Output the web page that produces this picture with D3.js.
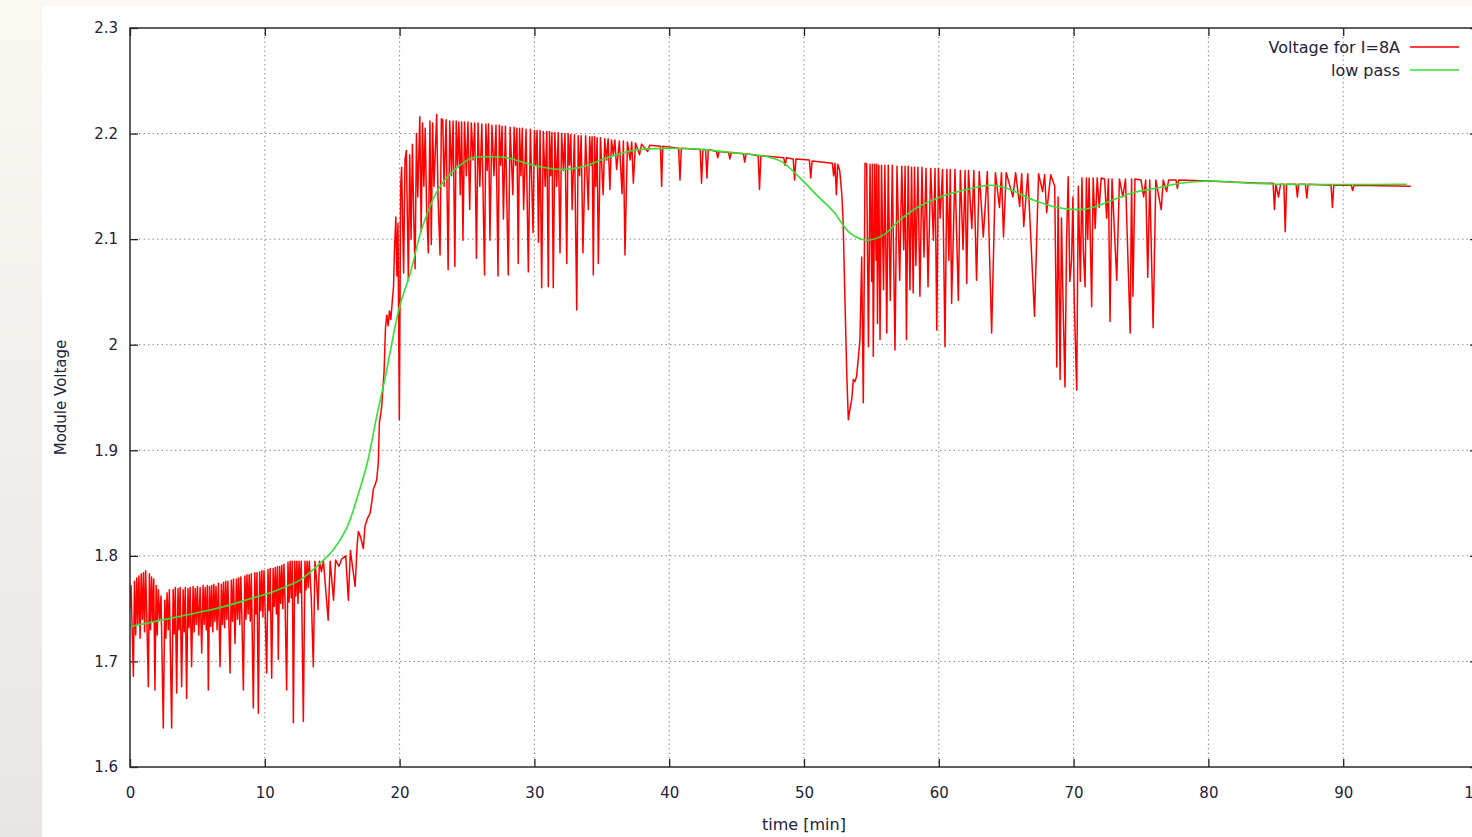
<!DOCTYPE html>
<html>
<head>
<meta charset="utf-8">
<script src="https://cdn.jsdelivr.net/npm/d3@7"></script>
<style>
  html, body { margin: 0; padding: 0; }
  body {
    width: 1472px; height: 837px; overflow: hidden;
    background: linear-gradient(#f9f8f3, #e7e6e2);
  }
  #chart svg { display: block; }
  text { font-family: "DejaVu Sans", Verdana, sans-serif; fill: #22223a; }
</style>
</head>
<body>
<div id="chart"></div>
<script>
// ---- data (time [min], voltage) ----
const voltageStart = [
  [0.00,1.750],[0.08,1.772],[0.16,1.730],[0.25,1.686],[0.33,1.776],[0.42,1.725],[0.50,1.779],[0.58,1.735],[0.66,1.781],[0.75,1.722],
  [0.83,1.783],[0.92,1.740],[1.00,1.784],[1.08,1.728],[1.16,1.786],[1.24,1.745],[1.36,1.676],[1.44,1.783],[1.52,1.730],[1.60,1.780],
  [1.68,1.738],[1.76,1.778],[1.85,1.673],[1.94,1.772],[2.02,1.725],[2.10,1.768],[2.20,1.740],[2.30,1.762],[2.47,1.637],[2.58,1.758],
  [2.66,1.722],[2.75,1.765],[2.84,1.730],[2.92,1.768],[3.09,1.637],[3.20,1.768],[3.28,1.726],[3.36,1.770],[3.46,1.670],[3.56,1.769],
  [3.64,1.730],[3.72,1.770],[3.83,1.676],[3.94,1.768],[4.02,1.728],[4.10,1.770],[4.20,1.665],[4.30,1.769],[4.38,1.732],[4.46,1.770],
  [4.57,1.695],[4.68,1.771],[4.76,1.728],[4.84,1.769],[4.92,1.735],[5.00,1.771],[5.10,1.725],[5.20,1.770],[5.32,1.708],[5.42,1.772],
  [5.50,1.735],[5.58,1.770],[5.66,1.730],[5.74,1.772],[5.81,1.673],[5.90,1.771],[5.98,1.733],[6.06,1.772],[6.14,1.728],[6.22,1.773],
  [6.30,1.738],[6.38,1.771],[6.46,1.730],[6.56,1.774],[6.68,1.695],[6.78,1.773],[6.86,1.735],[6.94,1.775],[7.02,1.732],[7.10,1.776],
  [7.18,1.740],[7.26,1.776],[7.42,1.689],[7.52,1.777],[7.60,1.738],[7.68,1.778],[7.79,1.717],[7.90,1.778],[7.98,1.740],[8.06,1.779],
  [8.14,1.735],[8.22,1.780],[8.30,1.742],[8.41,1.673],[8.52,1.781],[8.60,1.740],[8.68,1.782],[8.76,1.745],[8.84,1.782],[8.92,1.738],
  [9.00,1.783],[9.15,1.656],[9.26,1.784],[9.34,1.745],[9.42,1.784],[9.52,1.651],[9.62,1.785],[9.70,1.748],[9.78,1.786],[9.86,1.742],
  [9.94,1.786],[10.02,1.750],[10.14,1.689],[10.24,1.787],[10.32,1.748],[10.40,1.788],[10.51,1.684],[10.62,1.788],[10.70,1.752],[10.78,1.789],
  [10.86,1.745],[10.94,1.790],[11.00,1.702],[11.10,1.790],[11.18,1.755],[11.26,1.791],[11.34,1.750],[11.42,1.792],[11.50,1.758],[11.62,1.673],
  [11.72,1.794],[11.80,1.756],[11.88,1.795],[11.96,1.760],[12.04,1.795],[12.12,1.642],[12.22,1.795],[12.30,1.762],[12.38,1.795],[12.46,1.755],
  [12.54,1.795],[12.62,1.765],[12.70,1.795],[12.86,1.643],[12.98,1.795],[13.06,1.768],[13.14,1.795],[13.22,1.770],[13.30,1.795],[13.45,1.760],
  [13.60,1.695],[13.72,1.795],[13.85,1.775],[13.95,1.749],[14.05,1.795],[14.20,1.785],[14.35,1.795],[14.70,1.739],[14.85,1.795],[15.10,1.758],
  [15.25,1.796],[15.50,1.790],[15.70,1.797],[16.00,1.800],[16.20,1.758],[16.35,1.805],[16.70,1.771],[16.85,1.810]
];

const voltageStep = [
  [16.94,1.823],[17.10,1.818],[17.31,1.807],[17.43,1.828],[17.60,1.835],[17.80,1.840],[17.95,1.852],[18.05,1.863],[18.20,1.868],[18.30,1.872],
  [18.42,1.888],[18.50,1.926],[18.67,1.941],[18.85,1.975],[18.95,2.015],[19.05,2.028],[19.15,2.018],[19.25,2.032],[19.35,2.024],[19.45,2.040],
  [19.55,2.055],[19.62,2.090],[19.72,2.121],[19.80,2.065],[19.88,2.115],[19.98,1.929],[20.08,2.150],[20.15,2.168],[20.30,2.068],[20.40,2.175],
  [20.50,2.184],[20.65,2.061],[20.75,2.180],[20.85,2.100],[20.95,2.190],[21.05,2.120],[21.15,2.072],[21.25,2.200],[21.35,2.140],[21.50,2.216],
  [21.60,2.107],[21.70,2.210],[21.80,2.150],[21.90,2.205],[22.00,2.130],[22.13,2.087],[22.25,2.212],[22.35,2.095],[22.45,2.210],[22.55,2.150],
  [22.75,2.218],[22.85,2.140],[23.00,2.085],[23.10,2.214]
];

const voltagePlateau = [
  [23.20,2.213],[23.30,2.150],[23.45,2.213],[23.60,2.071],[23.72,2.212],[23.85,2.160],[23.97,2.212],[24.10,2.074],[24.20,2.212],[24.30,2.170],
  [24.40,2.211],[24.50,2.142],[24.60,2.211],[24.70,2.099],[24.82,2.211],[24.95,2.160],[25.07,2.211],[25.20,2.128],[25.32,2.210],[25.45,2.175],
  [25.57,2.210],[25.70,2.082],[25.82,2.210],[25.95,2.150],[26.10,2.209],[26.30,2.066],[26.40,2.209],[26.50,2.165],[26.60,2.209],[26.70,2.099],
  [26.85,2.208],[27.00,2.160],[27.15,2.208],[27.30,2.065],[27.40,2.208],[27.50,2.170],[27.60,2.207],[27.70,2.119],[27.85,2.207],[28.06,2.066],
  [28.20,2.206],[28.40,2.142],[28.50,2.206],[28.60,2.170],[28.70,2.205],[28.80,2.077],[28.90,2.205],[29.00,2.160],[29.10,2.205],[29.20,2.128],
  [29.38,2.204],[29.55,2.069],[29.70,2.204],[29.90,2.106],[30.00,2.203],[30.10,2.170],[30.20,2.203],[30.30,2.097],[30.42,2.203],[30.54,2.054],
  [30.66,2.202],[30.80,2.150],[30.92,2.202],[31.03,2.055],[31.12,2.202],[31.20,2.160],[31.30,2.201],[31.40,2.054],[31.52,2.201],[31.65,2.150],
  [31.77,2.201],[31.90,2.087],[32.02,2.200],[32.15,2.165],[32.27,2.200],[32.40,2.077],[32.50,2.200],[32.60,2.170],[32.70,2.199],[32.80,2.128],
  [32.97,2.199],[33.14,2.033],[33.25,2.198],[33.35,2.160],[33.47,2.198],[33.60,2.087],[33.80,2.198],[34.00,2.128],[34.10,2.197],[34.20,2.170],
  [34.28,2.197],[34.37,2.066],[34.46,2.197],[34.55,2.150],[34.65,2.196],[34.74,2.077],[34.90,2.196],[35.10,2.142],[35.22,2.195],[35.35,2.175],
  [35.47,2.195],[35.60,2.147],[35.72,2.194],[35.85,2.180],[35.97,2.194],[36.10,2.166],[36.30,2.193],[36.50,2.143],[36.60,2.193],[36.72,2.085],
  [36.90,2.192],[37.10,2.175],[37.22,2.192],[37.34,2.153],[37.50,2.191],[37.80,2.180],[37.95,2.190],[38.40,2.183],[38.55,2.189],[39.35,2.188],
  [39.44,2.150],[39.52,2.188]
];

const voltageDecline = [
  [40.70,2.186],[40.80,2.156],[40.90,2.186],[42.30,2.185],[42.40,2.153],[42.50,2.185],[42.70,2.185],[42.80,2.158],[42.90,2.185],[43.50,2.183],
  [43.60,2.177],[43.70,2.183],[44.40,2.182],[44.50,2.176],[44.60,2.182],[45.50,2.181],[45.60,2.173],[45.70,2.181],[46.60,2.179],[46.70,2.147],
  [46.80,2.179],[48.50,2.177],[48.60,2.170],[48.70,2.177],[49.20,2.176],[49.30,2.156],[49.40,2.176],[50.40,2.175],[50.50,2.158],[50.60,2.174],
  [52.10,2.172],[52.20,2.160],[52.30,2.172],[52.40,2.142],[52.50,2.171],[52.65,2.165],[52.80,2.143],[52.90,2.118],[53.04,2.042],[53.17,1.973],
  [53.29,1.929],[53.42,1.940],[53.54,1.948],[53.66,1.967],[53.78,1.965],[53.90,1.970],[54.05,1.990],[54.15,2.005],[54.28,2.083],[54.40,1.945],
  [54.53,2.172]
];

const voltageDip = [
  [54.65,2.171],[54.78,1.998],[54.90,2.171],[55.02,2.060],[55.08,2.171],[55.14,1.989],[55.25,2.171],[55.35,2.080],[55.40,2.171],[55.45,2.020],
  [55.55,2.170],[55.64,2.005],[55.75,2.170],[55.90,2.052],[56.00,2.170],[56.14,2.011],[56.25,2.170],[56.40,2.042],[56.55,2.170],[56.75,1.995],
  [56.90,2.169],[57.10,2.061],[57.25,2.169],[57.40,2.090],[57.50,2.169],[57.60,2.005],[57.73,2.169],[57.86,2.052],[57.98,2.168],[58.10,2.049],
  [58.20,2.168],[58.30,2.075],[58.45,2.168],[58.60,2.046],[58.75,2.168],[58.90,2.083],[59.05,2.167],[59.20,2.055],[59.40,2.167],[59.60,2.099],
  [59.72,2.167],[59.85,2.014],[59.97,2.167],[60.10,2.120],[60.28,2.166],[60.46,1.998],[60.60,2.166],[60.75,2.080],[60.85,2.166],[60.95,2.039],
  [61.20,2.166],[61.45,2.042],[61.60,2.165],[61.80,2.090],[61.95,2.165],[62.07,2.058],[62.20,2.165],[62.45,2.110],[62.60,2.165],[62.80,2.061],
  [63.00,2.164],[63.30,2.102],[63.60,2.164],[63.92,2.011],[64.20,2.163],[64.50,2.130],[64.65,2.163],[64.80,2.102],[65.00,2.163],[65.50,2.140],
  [65.70,2.163],[66.00,2.131],[66.15,2.162],[66.30,2.112],[66.60,2.162],[67.10,2.027],[67.40,2.162],[67.70,2.145],[67.85,2.161],[68.00,2.125],
  [68.30,2.161],[68.60,2.150],[68.75,1.979],[68.85,2.140],[69.00,1.967],[69.10,2.120],[69.20,2.050],[69.36,1.960],[69.48,2.100],[69.60,2.159],
  [69.72,2.060],[69.85,2.080],[69.95,2.140],[70.05,2.040],[70.23,1.957],[70.35,2.150],[70.50,2.060],[70.62,2.158],[70.72,2.090],[70.85,2.055],
  [70.95,2.158],[71.05,2.100],[71.15,2.158],[71.34,2.036],[71.45,2.158],[71.60,2.110],[71.75,2.158],[71.90,2.130],[72.05,2.158],[72.30,2.157],
  [72.45,2.120],[72.58,2.157],[72.70,2.022],[72.85,2.157],[73.20,2.061],[73.40,2.157],[73.65,2.140],[73.85,2.157],[74.20,2.011],[74.30,2.157],
  [74.40,2.046],[74.55,2.157],[75.00,2.156],[75.20,2.140],[75.35,2.156],[75.50,2.064],[75.65,2.156],[75.90,2.016],[76.10,2.156],[76.50,2.128],
  [76.65,2.156],[76.90,2.145],[77.05,2.156]
];

const voltageTail = [
  [77.60,2.156],[77.70,2.148],[77.80,2.156],[80.00,2.155],[82.00,2.154],[84.00,2.153],[84.80,2.153],[84.90,2.128],[85.00,2.152],[85.20,2.140],
  [85.35,2.152],[85.60,2.152],[85.70,2.107],[85.80,2.152],[86.50,2.152],[86.60,2.140],[86.70,2.152],[87.20,2.152],[87.30,2.139],[87.40,2.152],
  [89.10,2.151],[89.20,2.130],[89.30,2.151],[90.60,2.151],[90.70,2.146],[90.80,2.151],[95.00,2.150]
];

const lowPass = [
  [0.0,1.733],[4.2,1.744],[6.7,1.751],[9.1,1.760],[10.4,1.765],[11.6,1.771],[12.6,1.777],[14.1,1.793],[15.1,1.806],[16.1,1.827],
  [16.8,1.853],[17.6,1.888],[18.3,1.932],[18.9,1.967],[20.0,2.036],[20.8,2.068],[21.7,2.112],[23.0,2.150],[24.3,2.168],[25.4,2.177],
  [26.7,2.178],[28.0,2.177],[29.9,2.170],[31.9,2.166],[33.4,2.168],[35.4,2.177],[37.3,2.184],[39.8,2.186],[42.3,2.185],[44.7,2.182],
  [47.3,2.178],[48.4,2.173],[49.7,2.158],[51.0,2.141],[52.2,2.126],[53.4,2.106],[54.7,2.099],[55.9,2.104],[57.1,2.118],[58.4,2.130],
  [60.1,2.140],[62.1,2.147],[63.8,2.151],[65.1,2.148],[67.0,2.137],[68.8,2.130],[70.5,2.128],[71.4,2.130],[72.9,2.137],[74.4,2.144],
  [76.4,2.149],[77.9,2.153],[79.9,2.155],[83.1,2.153],[85.5,2.152],[94.7,2.152]
];

const xTicks = [0, 10, 20, 30, 40, 50, 60, 70, 80, 90, 100];
const yTicks = [1.6, 1.7, 1.8, 1.9, 2.0, 2.1, 2.2, 2.3];
const yTickLabels = ["1.6", "1.7", "1.8", "1.9", "2", "2.1", "2.2", "2.3"];
const seriesNames = ["Voltage for I=8A", "low pass"];
const seriesColors = ["#ff0000", "#33e033"];

const voltage = [].concat(voltageStart, voltageStep, voltagePlateau, voltageDecline, voltageDip, voltageTail);

// ---- layout ----
const W = 1472, H = 837;
const margin = { top: 28, left: 130 };
const width = 1348;   // plot runs past the right edge of the window
const height = 739;

const svg = d3.select('#chart')
  .append('svg')
  .attr('width', W)
  .attr('height', H);

svg.append('rect')
  .attr('x', 42).attr('y', 6)
  .attr('width', W - 42).attr('height', H - 6)
  .attr('fill', '#ffffff');

const g = svg.append('g')
  .attr('transform', `translate(${margin.left},${margin.top})`);

const xScale = d3.scaleLinear().domain([0, 100]).range([0, width]);
const yScale = d3.scaleLinear().domain([1.6, 2.3]).range([height, 0]);

// grid
g.append('g')
  .attr('class', 'grid')
  .selectAll('line.gx')
  .data(xTicks.slice(1, -1))
  .enter().append('line')
  .attr('x1', d => xScale(d)).attr('x2', d => xScale(d))
  .attr('y1', 0).attr('y2', height);
g.append('g')
  .attr('class', 'grid')
  .selectAll('line.gy')
  .data(yTicks.slice(1, -1))
  .enter().append('line')
  .attr('x1', 0).attr('x2', width)
  .attr('y1', d => yScale(d)).attr('y2', d => yScale(d));
g.selectAll('.grid line')
  .attr('stroke', '#8a8a8a')
  .attr('stroke-width', 1)
  .attr('stroke-dasharray', '1.5,3');

// axes (gnuplot style: ticks pointing in, on all four sides)
const axisStyle = sel => {
  sel.select('.domain').remove();
  sel.selectAll('.tick line').attr('stroke', '#222').attr('stroke-width', 1.3);
  sel.selectAll('text')
    .style('font-family', '"DejaVu Sans", Verdana, sans-serif')
    .style('font-size', '15px')
    .attr('fill', '#22223a');
};

g.append('g')
  .attr('transform', `translate(0,${height})`)
  .call(d3.axisBottom(xScale).tickValues(xTicks).tickSizeInner(-8).tickSizeOuter(0).tickPadding(20).tickFormat(d3.format('d')))
  .call(axisStyle);

g.append('g')
  .call(d3.axisTop(xScale).tickValues(xTicks).tickSizeInner(-8).tickSizeOuter(0).tickFormat(''))
  .call(axisStyle);

g.append('g')
  .call(d3.axisLeft(yScale).tickValues(yTicks).tickSizeInner(-8).tickSizeOuter(0).tickPadding(12)
    .tickFormat((d, i) => yTickLabels[i]))
  .call(axisStyle);

g.append('g')
  .attr('transform', `translate(${width},0)`)
  .call(d3.axisRight(yScale).tickValues(yTicks).tickSizeInner(-8).tickSizeOuter(0).tickFormat(''))
  .call(axisStyle);

// clip for data
g.append('clipPath').attr('id', 'plot-clip')
  .append('rect').attr('width', width).attr('height', height);

const line = d3.line()
  .x(d => xScale(d[0]))
  .y(d => yScale(d[1]));

g.append('path')
  .datum(voltage)
  .attr('clip-path', 'url(#plot-clip)')
  .attr('fill', 'none')
  .attr('stroke', seriesColors[0])
  .attr('stroke-width', 1.5)
  .attr('stroke-linejoin', 'round')
  .attr('d', line);

g.append('path')
  .datum(lowPass)
  .attr('clip-path', 'url(#plot-clip)')
  .attr('fill', 'none')
  .attr('stroke', seriesColors[1])
  .attr('stroke-width', 1.6)
  .attr('d', line.curve(d3.curveCatmullRom.alpha(0.5)));

// border
g.append('rect')
  .attr('width', width).attr('height', height)
  .attr('fill', 'none')
  .attr('stroke', '#2a2a2a')
  .attr('stroke-width', 1.5);

// axis titles
svg.append('text')
  .attr('x', margin.left + width / 2)
  .attr('y', 830)
  .attr('text-anchor', 'middle')
  .style('font-size', '16px')
  .text('time [min]');

svg.append('text')
  .attr('transform', `translate(66,${margin.top + height / 2}) rotate(-90)`)
  .attr('text-anchor', 'middle')
  .style('font-size', '15px')
  .text('Module Voltage');

// legend
const legend = svg.append('g').attr('id', 'legend');
seriesNames.forEach((name, i) => {
  const ly = 47 + i * 23;
  legend.append('text')
    .attr('x', 1400)
    .attr('y', ly)
    .attr('dy', '0.35em')
    .attr('text-anchor', 'end')
    .style('font-size', '16px')
    .text(name);
  legend.append('line')
    .attr('x1', 1410).attr('x2', 1459)
    .attr('y1', ly).attr('y2', ly)
    .attr('stroke', seriesColors[i])
    .attr('stroke-width', 1.5);
});
</script>
</body>
</html>
